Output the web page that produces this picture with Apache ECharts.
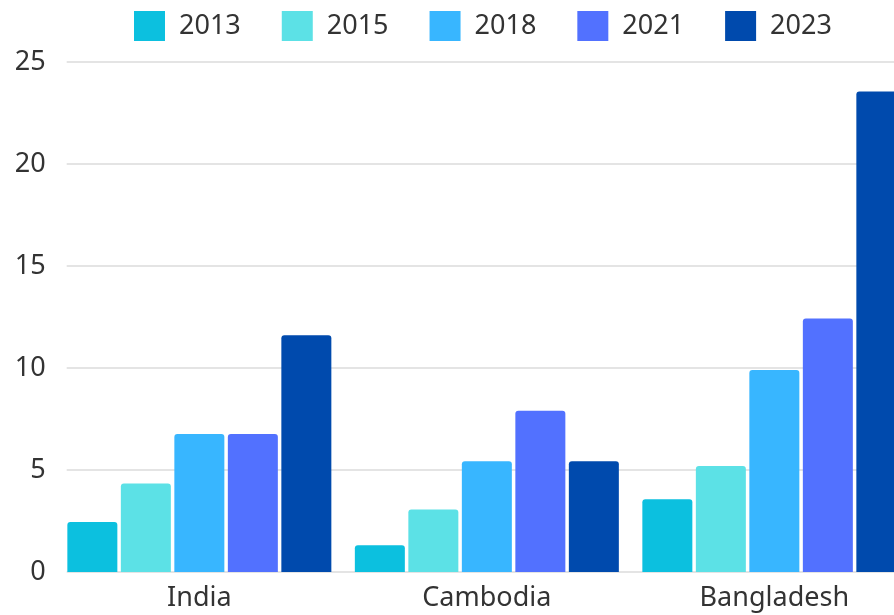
<!DOCTYPE html>
<html>
<head>
<meta charset="utf-8">
<script src="https://cdn.jsdelivr.net/npm/echarts@6/dist/echarts.min.js"></script>
<style>
  html, body { margin: 0; padding: 0; background: #ffffff; }
  #chart { width: 894px; height: 615px; }
</style>
</head>
<body>
<div id="chart"></div>
<script>
const countries = ['India', 'Cambodia', 'Bangladesh'];
const years = ['2013', '2015', '2018', '2021', '2023'];
const values2013 = [2.45, 1.31, 3.57];
const values2015 = [4.34, 3.06, 5.2];
const values2018 = [6.76, 5.43, 9.9];
const values2021 = [6.76, 7.9, 12.43];
const values2023 = [11.61, 5.43, 23.55];
const yTicks = [0, 5, 10, 15, 20, 25];
const palette = ['#0cc0df', '#5ce1e6', '#38b6ff', '#5271ff', '#004aad'];

const seriesValues = [values2013, values2015, values2018, values2021, values2023];
const fontFamily = '"Noto Sans", "Open Sans", sans-serif';
const textColor = '#333333';

const chart = echarts.init(document.getElementById('chart'), null, { renderer: 'canvas' });

chart.setOption({
  animation: false,
  backgroundColor: '#ffffff',
  color: palette,
  legend: {
    data: years,
    left: 129,
    top: 6,
    itemWidth: 31,
    itemHeight: 30,
    itemGap: 41,
    icon: 'rect',
    textStyle: {
      fontFamily: fontFamily,
      fontSize: 27,
      color: textColor,
      padding: [0, 0, 0, 9]
    }
  },
  grid: [
    // bar grid runs past the right edge of the canvas, so the last bar is cut off
    { left: 55.6, width: 862.5, top: 62, bottom: 43, containLabel: false, outerBoundsMode: 'none' },
    { left: 66.7, right: 0, top: 62, bottom: 43, containLabel: false, outerBoundsMode: 'none' }
  ],
  xAxis: [
    {
      type: 'category',
      gridIndex: 0,
      data: countries,
      axisLine: { show: false },
      axisTick: { show: false },
      axisLabel: {
        fontFamily: fontFamily,
        fontSize: 27,
        color: textColor,
        margin: 13
      }
    },
    {
      type: 'value',
      gridIndex: 1,
      show: false,
      min: 0,
      max: 1
    }
  ],
  yAxis: [
    {
      type: 'value',
      gridIndex: 0,
      min: 0,
      max: 25,
      interval: 5,
      show: false,
      splitLine: { show: false }
    },
    {
      type: 'value',
      gridIndex: 1,
      min: yTicks[0],
      max: yTicks[yTicks.length - 1],
      interval: yTicks[1] - yTicks[0],
      axisLine: { show: false },
      axisTick: { show: false },
      axisLabel: {
        fontFamily: fontFamily,
        fontSize: 27,
        color: textColor,
        margin: 21
      },
      splitLine: { show: true, lineStyle: { color: '#e4e4e4', width: 2 } }
    }
  ],
  series: years.map((year, i) => ({
    name: year,
    type: 'bar',
    xAxisIndex: 0,
    yAxisIndex: 0,
    data: seriesValues[i],
    barWidth: 50,
    barGap: '7%',
    itemStyle: { color: palette[i], borderRadius: [3, 3, 0, 0] }
  }))
});
</script>
</body>
</html>
